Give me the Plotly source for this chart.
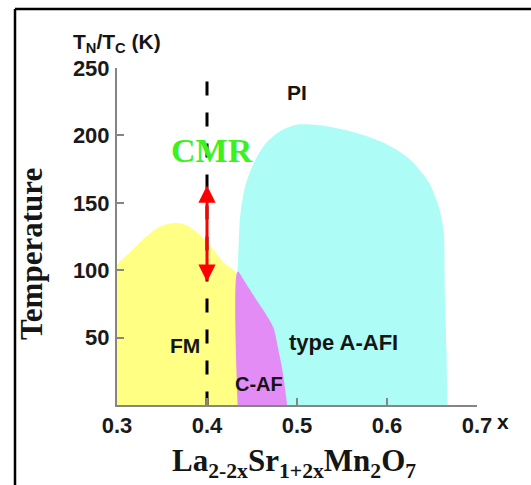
import plotly.graph_objects as go

# Phase boundaries of La(2-2x)Sr(1+2x)Mn2O7: doping x vs. temperature (K)
fm_x = [0.300, 0.300, 0.314, 0.326, 0.344, 0.355, 0.364, 0.372, 0.381, 0.400, 0.418, 0.434, 0.434]
fm_t = [0, 103, 113, 121, 131, 134, 135, 134.5, 132, 121, 106, 96, 0]

caf_x = [0.434, 0.434, 0.442, 0.453, 0.464, 0.474, 0.479, 0.484, 0.489]
caf_t = [0, 99, 91.5, 80, 69, 57, 42, 25, 0]

afi_x = [0.434, 0.434, 0.435, 0.437, 0.442, 0.451, 0.464, 0.481, 0.501, 0.531,
         0.568, 0.598, 0.624, 0.646, 0.657, 0.663, 0.664, 0.666, 0.667]
afi_t = [0, 99, 116, 141, 161, 178, 193, 203, 208, 207,
         201.5, 194, 183, 165.6, 148, 128.5, 91, 42, 0]

# Composition x = 0.4 marker line and CMR temperature window
cmr_x = 0.40
cmr_line_t = [240, 0]
cmr_arrow_t = [91.5, 164]

x_ticks = [0.3, 0.4, 0.5, 0.6, 0.7]
x_tick_text = ["0.3", "0.4", "0.5", "0.6", "0.7"]
t_ticks = [50, 100, 150, 200, 250]
t_tick_text = ["50", "100", "150", "200", "250"]

# Phase labels: (text, x, T, font size)
phase_labels = [
    ("PI", 0.500, 232, 21),
    ("FM", 0.375, 44, 21),
    ("C-AF", 0.458, 15.5, 20),
    ("type A-AFI", 0.552, 46, 22),
]

YELLOW = "#FFFF84"
CYAN = "#ADFCF5"
PURPLE = "#E48CF5"
AXIS_GREY = "#858585"
TEXT = "#151515"
SANS = "Liberation Sans"
SERIF = "Liberation Serif"

W, H = 531, 485
fig = go.Figure()

fig.add_trace(go.Scatter(x=afi_x, y=afi_t, fill="toself", fillcolor=CYAN, mode="lines",
                         line=dict(width=0, shape="spline", smoothing=0.8), hoverinfo="skip"))
fig.add_trace(go.Scatter(x=fm_x, y=fm_t, fill="toself", fillcolor=YELLOW, mode="lines",
                         line=dict(width=0, shape="spline", smoothing=0.8), hoverinfo="skip"))
fig.add_trace(go.Scatter(x=caf_x, y=caf_t, fill="toself", fillcolor=PURPLE, mode="lines",
                         line=dict(width=0, shape="spline", smoothing=0.8), hoverinfo="skip"))
fig.add_trace(go.Scatter(x=[cmr_x, cmr_x], y=cmr_line_t, mode="lines",
                         line=dict(color="black", width=3, dash="14px,17px"), hoverinfo="skip"))

annotations = []
# double-headed red arrow spanning the CMR window
annotations.append(dict(x=cmr_x, y=cmr_arrow_t[0], ax=cmr_x, ay=cmr_arrow_t[1],
                        xref="x", yref="y", axref="x", ayref="y", text="",
                        showarrow=True, arrowside="end+start", arrowhead=2, startarrowhead=2,
                        arrowsize=1.15, startarrowsize=1.15, arrowwidth=3, arrowcolor="#FF0000",
                        standoff=0, startstandoff=0))
annotations.append(dict(x=0.405, y=189, xref="x", yref="y", text="CMR", showarrow=False,
                        xanchor="center", yanchor="middle",
                        font=dict(family=SERIF, size=34, color="#3CF21E", weight="bold")))
for txt, lx, lt, fs in phase_labels:
    annotations.append(dict(x=lx, y=lt, xref="x", yref="y", text=txt, showarrow=False,
                            xanchor="center", yanchor="middle",
                            font=dict(family=SANS, size=fs, color=TEXT, weight="bold")))

# axis captions, positioned in figure pixels
def caption(text, px, py, font, angle=0):
    return dict(x=px / W, y=1 - py / H, xref="paper", yref="paper", text=text,
                showarrow=False, xanchor="center", yanchor="middle",
                textangle=angle, font=font)

annotations.append(caption("T<sub>N</sub>/T<sub>C</sub> (K)", 117, 43,
                           dict(family=SANS, size=21, color=TEXT, weight="bold")))
annotations.append(caption("x", 503, 421,
                           dict(family=SANS, size=21, color=TEXT, weight="bold")))
annotations.append(caption("La<sub>2-2x</sub>Sr<sub>1+2x</sub>Mn<sub>2</sub>O<sub>7</sub>", 294, 463,
                           dict(family=SERIF, size=31, color=TEXT, weight="bold")))
annotations.append(caption("Temperature", 31, 254,
                           dict(family=SERIF, size=31, color=TEXT, weight="bold"), angle=-90))

# frame around the figure (top and left edges)
shapes = [
    dict(type="line", xref="paper", yref="paper", x0=15 / W, x1=1.01, y0=1 - 9 / H, y1=1 - 9 / H,
         line=dict(color="black", width=2.5)),
    dict(type="line", xref="paper", yref="paper", x0=15 / W, x1=15 / W, y0=-0.01, y1=1 - 9 / H,
         line=dict(color="black", width=2.5)),
]

fig.update_layout(
    width=W, height=H, autosize=False,
    margin=dict(l=0, r=0, t=0, b=0, pad=0),
    paper_bgcolor="white", plot_bgcolor="white",
    showlegend=False,
    annotations=annotations,
    shapes=shapes,
    xaxis=dict(range=[0.3, 0.7], domain=[117 / W, 477 / W], automargin=False,
               showgrid=False, zeroline=False,
               showline=True, linecolor=AXIS_GREY, linewidth=2,
               ticks="inside", ticklen=7, tickwidth=2, tickcolor=AXIS_GREY,
               tickvals=x_ticks, ticktext=x_tick_text, ticklabelstandoff=0,
               tickfont=dict(family=SANS, size=22, color="#1a1a1a", weight="bold")),
    yaxis=dict(range=[0, 250], domain=[1 - 405 / H, 1 - 68 / H], automargin=False,
               showgrid=False, zeroline=False,
               showline=True, linecolor=AXIS_GREY, linewidth=2,
               ticks="inside", ticklen=7, tickwidth=2, tickcolor=AXIS_GREY,
               tickvals=t_ticks, ticktext=t_tick_text, ticklabelstandoff=1,
               tickfont=dict(family=SANS, size=22, color="#1a1a1a", weight="bold")),
)

fig.write_html(
    "out.html",
    config={"responsive": False, "displayModeBar": False},
    post_script="document.body.style.margin='0';document.body.style.overflow='hidden';",
)
